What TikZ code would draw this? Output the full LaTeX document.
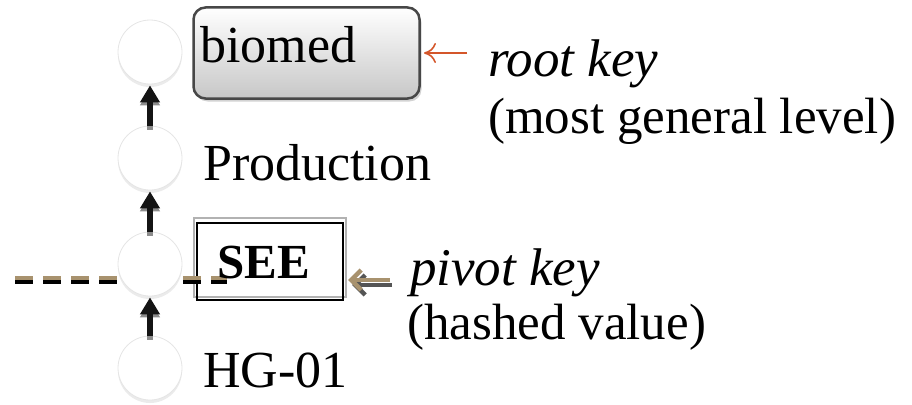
\documentclass[tikz,border=0pt]{standalone}
\usepackage{fontspec}
\setmainfont{Liberation Serif}
\usetikzlibrary{arrows.meta,shadows}

\definecolor{keyred}{HTML}{D4562A}
\definecolor{keytan}{HTML}{A8926E}
\definecolor{keygray}{HTML}{555555}

\begin{document}
\begin{tikzpicture}[x=1pt,y=-1pt,
  txt/.style={inner sep=0pt, anchor=base west, font=\fontsize{52}{60}\selectfont},
  itxt/.style={inner sep=0pt, anchor=base west, font=\fontsize{53}{60}\selectfont\itshape},
  level/.style={circle, minimum size=64pt, inner sep=0pt, draw=black!10, line width=0.8pt,
    fill=white,
    drop shadow={opacity=0.16, shadow xshift=0pt, shadow yshift=-3pt}},
  uplink/.style={line width=6pt, -{Triangle[length=17pt,width=19pt]}},
  dashrule/.style={line width=4pt, dash pattern=on 18pt off 10pt},
  pivotarrow/.style={line width=4.5pt, -{Straight Barb[length=10pt,width=20pt]}},
]
\useasboundingbox (0,0) rectangle (912,404);

% root key box with gradient and shadow
\node[rounded corners=12pt, draw=black!72, line width=2.5pt, top color=white, bottom color=black!22,
  minimum width=226pt, minimum height=91pt, drop shadow={opacity=0.35, shadow xshift=2pt, shadow yshift=-3pt}]
  (rootbox) at (306.5,53) {};
\node[txt] (biomed) at (200,63) {biomed};

% pivot key box: grey outline behind a black frame
\node[draw=black!30, line width=1.2pt, minimum width=152pt, minimum height=79pt] (pivotshade) at (270,257.5) {};
\node[draw=black, line width=1.5pt, minimum width=146pt, minimum height=77pt] (pivotbox) at (270,261.5) {};

% hashed split line (dark lower copy, tan upper copy)
\coordinate (dashLb) at (15,282);
\coordinate (dashRb) at (227,282);
\coordinate (dashLt) at (15,278);
\coordinate (dashRt) at (227,278);
\draw[dashrule, black] (dashLb) -- (dashRb);
\draw[dashrule, keytan] (dashLt) -- (dashRt);

% key levels
\node[level] (c1) at (150,52) {};
\node[level] (c2) at (150,158) {};
\node[level] (c3) at (150,264) {};
\node[level] (c4) at (150,368) {};

% links up the hierarchy
\foreach \lo/\hi in {c2/c1, c3/c2, c4/c3} {
  \draw[uplink, black!45] ([yshift=-4pt]\lo.north) -- ([yshift=-4pt]\hi.south);
  \draw[uplink, black!92] (\lo.north) -- ([yshift=-1pt]\hi.south);
}

% level labels
\node[txt] (prod) at (203,180) {Production};
\node[txt] (hg) at (203,387) {HG-01};
\node[txt, font=\fontsize{49}{56}\selectfont\bfseries] (see) at (217,278) {SEE};

% annotations
\node[itxt] (rootkey) at (488,77) {root key};
\node[txt, font=\fontsize{51}{60}\selectfont] (rootnote) at (488,133) {(most general level)};
\node[itxt] (pivotkey) at (410,285) {pivot key};
\node[txt, font=\fontsize{51}{60}\selectfont] (pivotnote) at (407,339) {(hashed value)};

\coordinate (rootfrom) at (467,53);
\coordinate (rootto) at (424,53);
\draw[keyred, line width=1.6pt, -{To[length=12pt,width=20pt]}] (rootfrom) -- (rootto);

\coordinate (pivfromb) at (392,285);
\coordinate (pivtob) at (352,285);
\coordinate (pivfromt) at (390,280);
\coordinate (pivtot) at (348,280);
\draw[pivotarrow, keygray] (pivfromb) -- (pivtob);
\draw[pivotarrow, keytan] (pivfromt) -- (pivtot);
\end{tikzpicture}
\end{document}
